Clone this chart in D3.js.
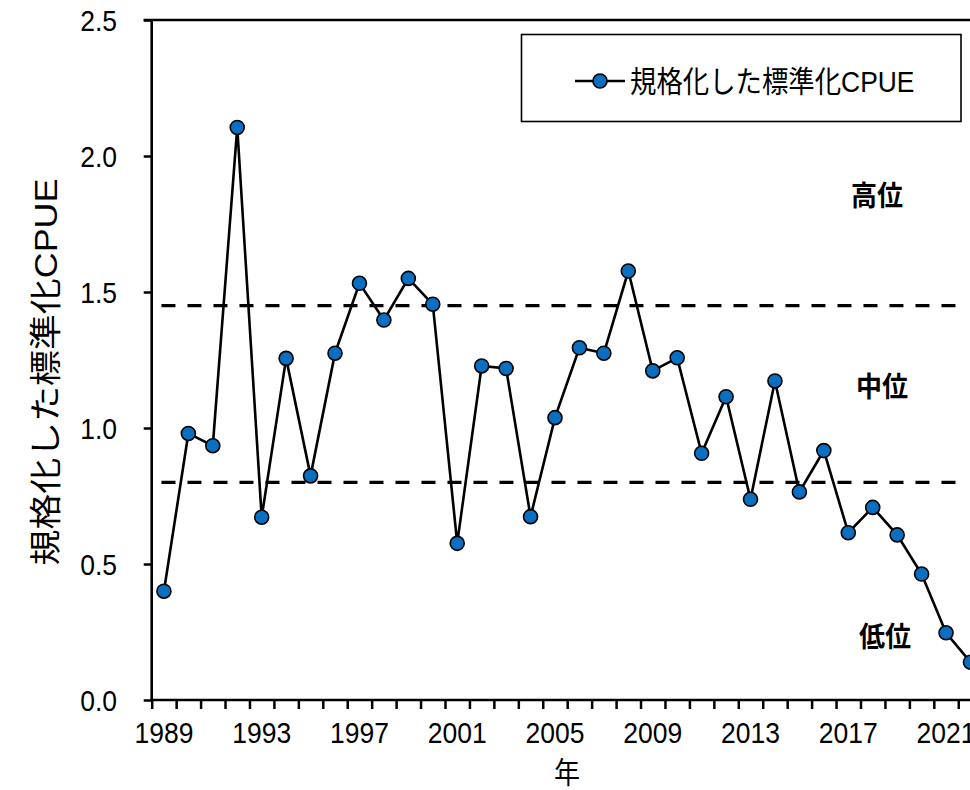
<!DOCTYPE html>
<html><head><meta charset="utf-8">
<script src="https://cdn.jsdelivr.net/npm/d3@7"></script>
<style>body{margin:0;background:#fff}svg{display:block}text{font-family:"Liberation Sans",Arial,"Noto Sans CJK JP",sans-serif;fill:#000}</style>
</head><body><svg id="c" width="970" height="790"></svg>
<script>
const years = d3.range(1989, 2023);
const cpue = [0.40,0.98,0.935,2.105,0.672,1.256,0.824,1.275,1.532,1.397,1.55,1.455,0.576,1.228,1.219,0.674,1.038,1.295,1.275,1.577,1.21,1.258,0.907,1.115,0.738,1.173,0.765,0.917,0.615,0.708,0.607,0.463,0.247,0.139];
const yTicks = [0,0.5,1.0,1.5,2.0,2.5];
const xLabelYears = [1989,1993,1997,2001,2005,2009,2013,2017,2021];
const thresholds = [1.45, 0.80];
const levelLabels = [{t:"高位", v:1.85},{t:"中位", v:1.15},{t:"低位", v:0.23}];
const seriesName = "規格化した標準化CPUE";
const yTitle = "規格化した標準化CPUE";
const xTitle = "年";

const SY = 1.14;
const svg = d3.select("#c");
const x = d3.scaleLinear().domain([1988.5, 2022.5]).range([151.7, 982.7]);
const y = d3.scaleLinear().domain([0, 2.5]).range([700, 20]);

// dashed threshold lines
svg.selectAll("line.th").data(thresholds).join("line")
  .attr("x1", x(1988.9)).attr("x2", x(2022.1) - 10)
  .attr("y1", d => y(d)).attr("y2", d => y(d))
  .attr("stroke", "#000").attr("stroke-width", 3.2).attr("stroke-dasharray", "14,12");

// axes
const yAxis = svg.append("g").attr("transform", `translate(${x(1988.5)},0)`)
  .call(d3.axisLeft(y).tickValues(yTicks).tickSize(8).tickFormat(""));
const xAxis = svg.append("g").attr("transform", `translate(0,${y(0)})`)
  .call(d3.axisBottom(x).tickValues(d3.range(1988.5, 2023, 1)).tickSize(9).tickFormat(""));
[yAxis, xAxis].forEach(g => {
  g.select(".domain").remove();
  g.selectAll(".tick line").attr("stroke", "#000").attr("stroke-width", 2.5);
});
svg.append("line").attr("x1", x(1988.5)).attr("x2", x(1988.5)).attr("y1", y(2.5) - 1).attr("y2", y(0) + 1)
  .attr("stroke", "#000").attr("stroke-width", 2.6);
svg.append("line").attr("x1", x(1988.5) - 1).attr("x2", x(2022.5)).attr("y1", y(0)).attr("y2", y(0))
  .attr("stroke", "#000").attr("stroke-width", 2.6);
svg.append("line").attr("x1", x(1988.5) - 8).attr("x2", x(2022.5)).attr("y1", y(2.5)).attr("y2", y(2.5))
  .attr("stroke", "#000").attr("stroke-width", 2.6);

// tick labels
svg.selectAll("text.yl").data(yTicks).join("text")
  .attr("transform", d => `translate(117,${y(d)}) scale(1,${SY})`)
  .attr("text-anchor", "end").attr("dominant-baseline", "central")
  .style("font-size", "26.5px").text(d => d.toFixed(1));
svg.selectAll("text.xl").data(xLabelYears).join("text")
  .attr("transform", d => `translate(${x(d)},743) scale(1,${SY})`)
  .attr("text-anchor", "middle").style("font-size", "26.5px").text(d => d);

// titles
svg.append("text").attr("transform", `translate(57,372) rotate(-90) scale(${SY},1)`)
  .attr("text-anchor", "middle").style("font-size", "31.5px").text(yTitle);
svg.append("text").attr("transform", `translate(567,783) scale(1,${SY})`)
  .attr("text-anchor", "middle").style("font-size", "26px").text(xTitle);

// level labels
svg.selectAll("text.lv").data(levelLabels).join("text")
  .attr("transform", (d, i) => `translate(${[877, 882, 885][i]},${y(d.v)}) scale(1,1.08)`)
  .attr("text-anchor", "middle").attr("dominant-baseline", "central")
  .style("font-size", "26px").style("font-weight", "bold").text(d => d.t);

// series
const pts = years.map((yr, i) => ({yr, v: cpue[i]}));
svg.append("path").datum(pts)
  .attr("d", d3.line().x(d => x(d.yr)).y(d => y(d.v)))
  .attr("fill", "none").attr("stroke", "#000").attr("stroke-width", 2.6);
svg.selectAll("circle.pt").data(pts).join("circle")
  .attr("cx", d => x(d.yr)).attr("cy", d => y(d.v)).attr("r", 7)
  .attr("fill", "#0a6fc1").attr("stroke", "#000").attr("stroke-width", 1.6);

// legend
const lg = svg.append("g");
lg.append("rect").attr("x", 521.5).attr("y", 34.5).attr("width", 439.5).attr("height", 87)
  .attr("fill", "#fff").attr("stroke", "#000").attr("stroke-width", 1.6);
lg.append("line").attr("x1", 575).attr("x2", 625).attr("y1", 81).attr("y2", 81)
  .attr("stroke", "#000").attr("stroke-width", 2.6);
lg.append("circle").attr("cx", 600).attr("cy", 81).attr("r", 7)
  .attr("fill", "#0a6fc1").attr("stroke", "#000").attr("stroke-width", 1.6);
lg.append("text").attr("transform", `translate(630,81) scale(1,${SY})`)
  .attr("dominant-baseline", "central").style("font-size", "26.4px").text(seriesName);
</script></body></html>
